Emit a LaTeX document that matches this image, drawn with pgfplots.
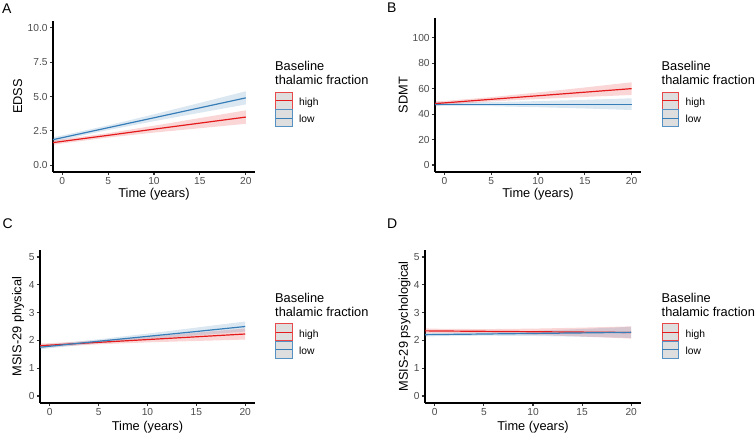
\documentclass[border=0pt]{standalone}
\usepackage{pgfplots}
\pgfplotsset{compat=1.18}
\usepackage{fontspec}
\setmainfont{Liberation Sans}
\definecolor{cred}{HTML}{E41A1C}
\definecolor{cblue}{HTML}{377EB8}
\definecolor{tickgrey}{HTML}{4D4D4D}
\definecolor{keygrey}{HTML}{DEDEDE}
\pgfplotsset{
  panel/.style={
    scale only axis,
    axis x line*=bottom, axis y line*=left,
    axis line style={black, line width=1.1pt, -},
    xmin=-1, xmax=21,
    xtick={0,5,10,15,20}, xticklabels={0,5,10,15,20},
    tick align=outside, major tick length=3.2pt,
    tick style={black!80, line width=1.1pt},
    tick label style={font=\fontsize{10.2}{12}\selectfont, text=tickgrey},
    /pgf/number format/assume math mode=true,
    xticklabel style={inner sep=0pt, anchor=north},
    yticklabel style={inner sep=0pt, anchor=east},
    xticklabel shift=2pt, yticklabel shift=2pt,
    label style={font=\fontsize{12.8}{15}\selectfont, black},
    xlabel={Time (years)},
  },
  ribbon/.style={draw=none, fill=#1, fill opacity=0.18},
  fit/.style={#1, line width=1.2pt},
}
\newcommand{\legendat}[2]{%
  \node[anchor=base west, inner sep=0pt, font=\fontsize{12.8}{15}\selectfont] at (#1,#2) {Baseline};
  \node[anchor=base west, inner sep=0pt, font=\fontsize{12.8}{15}\selectfont] at (#1,#2-13.8) {thalamic fraction};
  \draw[cred!80!white, fill=keygrey, line width=1.1pt] (#1+0.7,#2-38.5) rectangle (#1+17.3,#2-21.5);
  \draw[cred, line width=1.1pt] (#1+0.7,#2-30) -- (#1+17.3,#2-30);
  \draw[cblue!85!white, fill=keygrey, line width=1.1pt] (#1+0.7,#2-56) rectangle (#1+17.3,#2-39);
  \draw[cblue, line width=1.1pt] (#1+0.7,#2-47.5) -- (#1+17.3,#2-47.5);
  \node[anchor=base west, inner sep=0pt, font=\fontsize{10.3}{12}\selectfont] at (#1+24,#2-34.8) {high};
  \node[anchor=base west, inner sep=0pt, font=\fontsize{10.3}{12}\selectfont] at (#1+24,#2-52.3) {low};
}
\begin{document}
\begin{tikzpicture}[x=1pt,y=1pt]
\useasboundingbox (0,0) rectangle (755,435);

% ---------- A: EDSS ----------
\begin{axis}[panel, at={(53pt,263pt)}, anchor=south west, width=202pt, height=151pt,
  ymin=-0.5, ymax=10.5, ytick={0,2.5,5,7.5,10}, yticklabels={0.0,2.5,5.0,7.5,10.0},
  ylabel={EDSS},
  ylabel style={at={(axis description cs:-0.175,0.5)}, anchor=center},
  xlabel style={at={(axis description cs:0.5,-0.145)}, anchor=center}]
\addplot[ribbon=cred] coordinates {(-1,1.81)(0,1.88)(5,2.33)(10,2.87)(15,3.43)(20,3.99)(20,3.01)(15,2.69)(10,2.37)(5,2.01)(0,1.58)(-1,1.47)};
\addplot[ribbon=cblue] coordinates {(-1,2.035)(0,2.16)(5,2.895)(10,3.70)(15,4.535)(20,5.38)(20,4.42)(15,3.815)(10,3.20)(5,2.555)(0,1.84)(-1,1.675)};
\addplot[fit=cred] coordinates {(-1,1.64)(0,1.73)(5,2.17)(10,2.62)(15,3.06)(20,3.50)};
\addplot[fit=cblue] coordinates {(-1,1.855)(0,2.00)(5,2.725)(10,3.45)(15,4.175)(20,4.90)};
\end{axis}

% ---------- B: SDMT ----------
\begin{axis}[panel, at={(435pt,263pt)}, anchor=south west, width=206pt, height=154pt,
  ymin=-5.5, ymax=115.5, ytick={0,20,40,60,80,100}, yticklabels={0,20,40,60,80,100},
  ylabel={SDMT},
  ylabel style={at={(axis description cs:-0.154,0.5)}, anchor=center},
  xlabel style={at={(axis description cs:0.5,-0.143)}, anchor=center}]
\addplot[ribbon=cred] coordinates {(-1,50.04)(0,50.3)(5,53.3)(10,57.0)(15,60.9)(20,65.0)(20,55.0)(15,53.5)(10,51.8)(5,49.9)(0,47.3)(-1,46.44)};
\addplot[ribbon=cblue] coordinates {(-1,49.5)(0,49.2)(5,49.4)(10,50.2)(15,51.2)(20,52.4)(20,43.2)(15,44.4)(10,45.4)(5,46.2)(0,46.4)(-1,46.1)};
\addplot[fit=cred] coordinates {(-1,48.24)(0,48.8)(5,51.6)(10,54.4)(15,57.2)(20,60.0)};
\addplot[fit=cblue] coordinates {(-1,47.8)(0,47.8)(5,47.8)(10,47.8)(15,47.8)(20,47.8)};
\end{axis}

% ---------- C: MSIS-29 physical ----------
\begin{axis}[panel, at={(40pt,32pt)}, anchor=south west, width=215pt, height=153pt,
  ymin=-0.25, ymax=5.25, ytick={0,1,2,3,4,5}, yticklabels={0,1,2,3,4,5},
  ylabel={MSIS-29 physical},
  ylabel style={at={(axis description cs:-0.102,0.5)}, anchor=center},
  xlabel style={at={(axis description cs:0.5,-0.160)}, anchor=center}]
\addplot[ribbon=cred] coordinates {(-1,1.89)(0,1.90)(5,2.00)(10,2.13)(15,2.28)(20,2.43)(20,2.03)(15,1.98)(10,1.93)(5,1.86)(0,1.76)(-1,1.73)};
\addplot[ribbon=cblue] coordinates {(-1,1.835)(0,1.86)(5,2.04)(10,2.245)(15,2.46)(20,2.68)(20,2.32)(15,2.18)(10,2.045)(5,1.90)(0,1.72)(-1,1.675)};
\addplot[fit=cred] coordinates {(-1,1.81)(0,1.83)(5,1.93)(10,2.03)(15,2.13)(20,2.23)};
\addplot[fit=cblue] coordinates {(-1,1.755)(0,1.79)(5,1.97)(10,2.145)(15,2.32)(20,2.50)};
\end{axis}

% ---------- D: MSIS-29 psychological ----------
\begin{axis}[panel, at={(425pt,32pt)}, anchor=south west, width=216pt, height=153pt,
  ymin=-0.25, ymax=5.25, ytick={0,1,2,3,4,5}, yticklabels={0,1,2,3,4,5},
  ylabel={MSIS-29 psychological},
  ylabel style={at={(axis description cs:-0.095,0.5)}, anchor=center},
  xlabel style={at={(axis description cs:0.5,-0.160)}, anchor=center}]
\addplot[ribbon=cred] coordinates {(-1,2.433)(0,2.42)(5,2.406)(10,2.423)(15,2.459)(20,2.505)(20,2.065)(15,2.139)(10,2.203)(5,2.246)(0,2.26)(-1,2.253)};
\addplot[ribbon=cblue] coordinates {(-1,2.276)(0,2.27)(5,2.29)(10,2.34)(15,2.41)(20,2.49)(20,2.09)(15,2.13)(10,2.16)(5,2.17)(0,2.15)(-1,2.136)};
\addplot[fit=cred] coordinates {(-1,2.343)(0,2.34)(5,2.326)(10,2.313)(15,2.299)(20,2.285)};
\addplot[fit=cblue] coordinates {(-1,2.206)(0,2.21)(5,2.23)(10,2.25)(15,2.27)(20,2.29)};
\end{axis}

% ---------- legends ----------
\legendat{275}{364.3}
\legendat{661.5}{364.3}
\legendat{275}{132.7}
\legendat{661.5}{132.7}

% ---------- panel letters ----------
\node[anchor=base west, inner sep=0pt, font=\fontsize{14}{16}\selectfont] at (2,421.7) {A};
\node[anchor=base west, inner sep=0pt, font=\fontsize{14}{16}\selectfont] at (387,422.3) {B};
\node[anchor=base west, inner sep=0pt, font=\fontsize{14}{16}\selectfont] at (2.5,206.7) {C};
\node[anchor=base west, inner sep=0pt, font=\fontsize{14}{16}\selectfont] at (387,206.7) {D};
\end{tikzpicture}
\end{document}
